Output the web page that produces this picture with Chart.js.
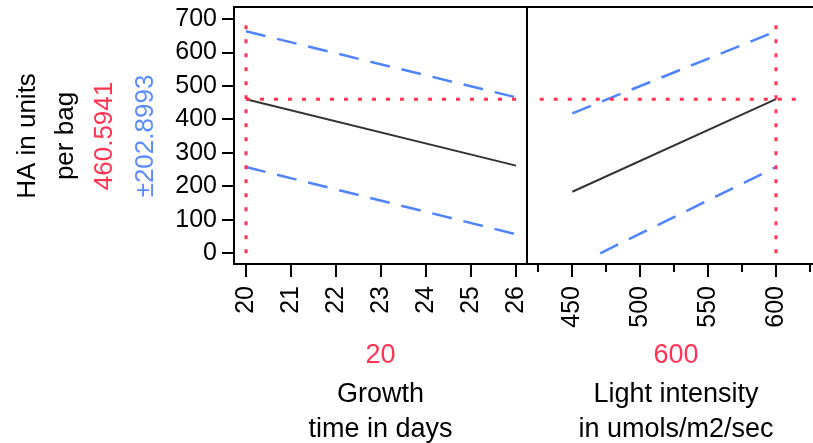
<!DOCTYPE html>
<html><head><meta charset="utf-8">
<script src="https://cdn.jsdelivr.net/npm/chart.js@4/dist/chart.umd.min.js"></script>
<style>
html,body{margin:0;padding:0;background:#fff;overflow:hidden;width:813px;height:443px}
#wrap{position:relative;width:813px;height:443px;overflow:hidden;background:#fff}
canvas{position:absolute;top:0}
#c1{left:0}
#c2{left:526px}
</style></head>
<body><div id="wrap"><canvas id="c1" width="528" height="443"></canvas><canvas id="c2" width="299" height="443"></canvas></div>
<script>
// ---- data ----
const yTicks = [0, 100, 200, 300, 400, 500, 600, 700];
const growthTicks = [20, 21, 22, 23, 24, 25, 26];
const lightTicks = [450, 500, 550, 600];
const lightMinorTicks = [425, 475, 525, 575, 625];

const growthX = [20, 26];
const growthPred = [460.5941, 262];
const growthUpper = [663.5, 466];
const growthLower = [257.7, 57];

const lightX = [450, 600];
const lightPred = [184, 460.5941];
const lightUpper = [418, 663.5];
const lightLowerX = [470.5, 600];
const lightLower = [0, 257.7];

const predValue = 460.5941;
const currentGrowth = 20;
const currentLight = 600;
const refLineBottom = 0;
const refLineTop = 690;
const lightRefXRange = [426, 620];

const yTitleLines = ['HA in units', 'per bag'];
const predLabel = '460.5941';
const ciLabel = '\u00B1202.8993';
const growthTitle = ['Growth', 'time in days'];
const growthCurrentLabel = '20';
const lightTitle = ['Light intensity', 'in umols/m2/sec'];
const lightCurrentLabel = '600';

// ---- styles ----
const FONT = "'Liberation Sans', Arial, sans-serif";
const RED = '#ff3352';
const BLUE = '#4f84ff';
const BLUE_TXT = '#5a8bff';
const LINE = '#333333';

function pts(xs, ys) { return xs.map((x, i) => ({ x: x, y: ys[i] })); }

function ds(data, color, width, dash) {
  return { data: data, borderColor: color, borderWidth: width, borderDash: dash || [],
           pointRadius: 0, tension: 0, fill: false, borderCapStyle: 'butt' };
}

function noPad(s) { s.paddingLeft = 0; s.paddingRight = 0; s.paddingTop = 0; s.paddingBottom = 0; }

const yScale = (show) => ({
  type: 'linear', min: -32, max: 736, display: show,
  afterBuildTicks: s => { s.ticks = yTicks.map(v => ({ value: v })); },
  afterFit: s => { if (show) s.width = 234; noPad(s); },
  ticks: { padding: 5, color: '#000', font: { family: FONT, size: 25 } },
  grid: { drawOnChartArea: false, drawTicks: true, tickLength: 12, color: '#000', lineWidth: 2 },
  border: { display: true, color: '#000', width: 2 }
});

const xScale = (min, max, ticks) => ({
  type: 'linear', min: min, max: max, position: 'bottom',
  afterBuildTicks: s => { s.ticks = ticks.map(v => ({ value: v })); },
  afterFit: s => { s.height = 179; noPad(s); },
  ticks: { autoSkip: false, maxRotation: 90, minRotation: 90, padding: 9, color: '#000',
           font: { family: FONT, size: 25 } },
  grid: { drawOnChartArea: false, drawTicks: true, tickLength: 13, color: '#000', lineWidth: 2 },
  border: { display: true, color: '#000', width: 2 }
});

function framePlugin(sides, extra) {
  return {
    id: 'frame',
    afterDraw(chart) {
      const { ctx, chartArea: a } = chart;
      ctx.save();
      ctx.strokeStyle = '#000';
      ctx.lineWidth = 2;
      ctx.beginPath();
      ctx.moveTo(a.left, a.top); ctx.lineTo(a.right, a.top);
      if (sides.right) { ctx.moveTo(a.right, a.top); ctx.lineTo(a.right, a.bottom); }
      if (sides.left) { ctx.moveTo(a.left, a.top); ctx.lineTo(a.left, a.bottom); }
      ctx.stroke();
      ctx.restore();
      if (extra) extra(chart);
    }
  };
}

function bottomTexts(chart, valueLabel, titleLines) {
  const { ctx, chartArea: a } = chart;
  const cx = (a.left + a.right) / 2;
  ctx.save();
  ctx.textAlign = 'center';
  ctx.textBaseline = 'alphabetic';
  ctx.font = '27px ' + FONT;
  ctx.fillStyle = RED;
  ctx.fillText(valueLabel, cx, 363);
  ctx.fillStyle = '#000';
  ctx.fillText(titleLines[0], cx, 402);
  ctx.fillText(titleLines[1], cx, 437);
  ctx.restore();
}

// ---- left panel ----
new Chart(document.getElementById('c1'), {
  type: 'line',
  data: {
    datasets: [
      ds(pts([currentGrowth, currentGrowth], [refLineBottom, refLineTop]), RED, 3, [4, 10]),
      ds(pts([growthX[0], growthX[1]], [predValue, predValue]), RED, 3, [4, 10]),
      ds(pts(growthX, growthPred), LINE, 2),
      ds(pts(growthX, growthUpper), BLUE, 2.5, [20, 12]),
      ds(pts(growthX, growthLower), BLUE, 2.5, [20, 12])
    ]
  },
  options: {
    responsive: false, animation: false, devicePixelRatio: 1,
    layout: { padding: { top: 7, right: 1, left: 0, bottom: 0 } },
    plugins: { legend: { display: false }, tooltip: { enabled: false } },
    scales: { x: xScale(19.733, 26.244, growthTicks), y: yScale(true) }
  },
  plugins: [framePlugin({ right: true }, chart => {
    const ctx = chart.ctx;
    const yc = 136;
    const lines = [
      { t: yTitleLines[0], x: 35, c: '#000' },
      { t: yTitleLines[1], x: 73, c: '#000' },
      { t: predLabel, x: 112, c: RED },
      { t: ciLabel, x: 153, c: BLUE_TXT }
    ];
    ctx.save();
    ctx.font = '26px ' + FONT;
    ctx.textAlign = 'center';
    ctx.textBaseline = 'alphabetic';
    lines.forEach(l => {
      ctx.save();
      ctx.translate(l.x, yc);
      ctx.rotate(-Math.PI / 2);
      ctx.fillStyle = l.c;
      ctx.fillText(l.t, 0, 0);
      ctx.restore();
    });
    ctx.restore();
    bottomTexts(chart, growthCurrentLabel, growthTitle);
  })]
});

// ---- right panel ----
new Chart(document.getElementById('c2'), {
  type: 'line',
  data: {
    datasets: [
      ds(pts([currentLight, currentLight], [refLineBottom, refLineTop]), RED, 3, [4, 10]),
      ds(pts(lightRefXRange, [predValue, predValue]), RED, 3, [4, 10]),
      ds(pts(lightX, lightPred), LINE, 2),
      ds(pts(lightX, lightUpper), BLUE, 2.5, [20, 12]),
      ds(pts(lightLowerX, lightLower), BLUE, 2.5, [20, 12])
    ]
  },
  options: {
    responsive: false, animation: false, devicePixelRatio: 1,
    layout: { padding: { top: 7, right: 0, left: 1, bottom: 0 } },
    plugins: { legend: { display: false }, tooltip: { enabled: false } },
    scales: { x: xScale(416.6, 636.1, lightTicks), y: yScale(false) }
  },
  plugins: [framePlugin({ left: true }, chart => {
    const ctx = chart.ctx;
    const xs = chart.scales.x;
    const b = chart.chartArea.bottom;
    ctx.save();
    ctx.strokeStyle = '#000';
    ctx.lineWidth = 2;
    ctx.beginPath();
    lightMinorTicks.forEach(v => {
      const px = Math.round(xs.getPixelForValue(v));
      ctx.moveTo(px, b); ctx.lineTo(px, b + 8);
    });
    ctx.stroke();
    ctx.restore();
    bottomTexts(chart, lightCurrentLabel, lightTitle);
  })]
});
</script>
</body></html>
